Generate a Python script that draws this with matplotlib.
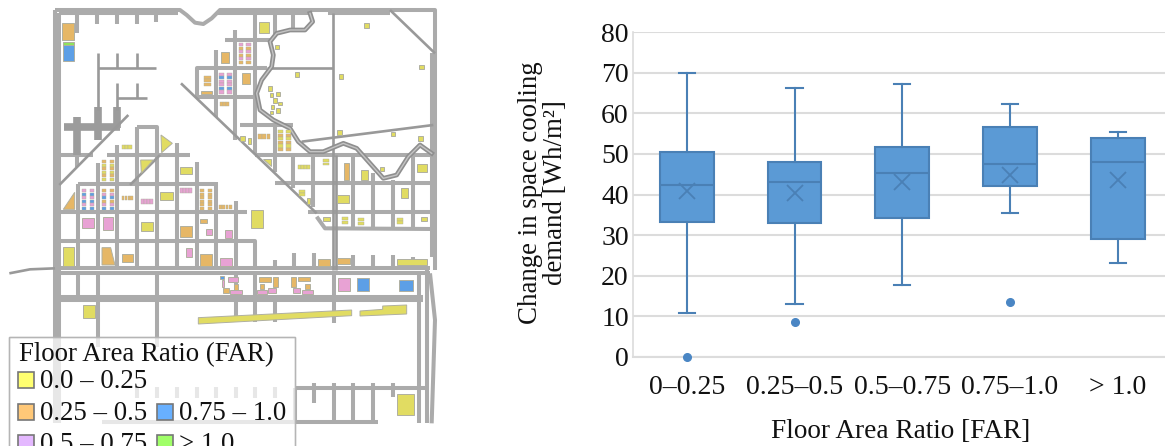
import matplotlib
matplotlib.use('Agg')
import matplotlib.pyplot as plt
from matplotlib.patches import Rectangle, Polygon

plt.rcParams['font.family'] = ['Liberation Serif', 'DejaVu Serif']

# boxplot values
far_labels = ['0\u20130.25', '0.25\u20130.5', '0.5\u20130.75', '0.75\u20131.0', '> 1.0']
whisker_low = [10.8, 13.0, 17.7, 35.5, 23.1]
q1 = [33.3, 33.0, 34.1, 42.2, 29.0]
median = [42.3, 43.2, 45.4, 47.6, 47.9]
q3 = [50.4, 48.1, 51.8, 56.5, 54.0]
whisker_high = [70.0, 66.3, 67.3, 62.2, 55.5]
means = [40.9, 40.3, 43.2, 44.8, 43.6]
outliers = [[0.0], [8.6], [], [13.6], []]

# map geometry, all in 3x image pixels (the map axes is scaled to that)
roads = [
    [(165, 30), (540, 30), (560, 45), (585, 68), (610, 72), (635, 55), (660, 30), (1305, 30), (1305, 810)],
    [(178, 40), (535, 40)], [(655, 40), (925, 40)], [(985, 40), (1170, 40)],
    [(165, 30), (165, 1270)], [(178, 40), (178, 1270)],
    [(232, 40), (232, 100)], [(292, 40), (292, 72)], [(351, 40), (351, 72)], [(410, 40), (410, 72)], [(468, 40), (468, 65)],
    [(178, 465), (280, 465)], [(232, 350), (232, 500)],
    [(320, 465), (570, 465)], [(235, 552), (645, 552)], [(178, 637), (740, 637)], [(178, 723), (765, 723), (765, 805)],
    [(235, 552), (235, 810)], [(293, 490), (293, 810)], [(352, 435), (352, 810)], [(412, 380), (412, 810)],
    [(412, 380), (470, 380), (470, 810)], [(530, 430), (530, 810)], [(590, 485), (590, 810)],
    [(648, 545), (648, 810)], [(707, 603), (707, 810)],
    [(647, 150), (647, 350)], [(705, 90), (705, 420)], [(675, 120), (810, 120)], [(765, 45), (765, 460)], [(825, 45), (825, 110)],
    [(880, 40), (880, 90)], [(590, 290), (590, 205), (800, 205)], [(590, 290), (770, 290)], [(720, 375), (880, 375)],
    [(825, 380), (825, 515)], [(765, 465), (1300, 465)], [(825, 550), (1300, 550)], [(925, 637), (1300, 637)],
    [(950, 650), (975, 685), (1300, 687)], [(880, 465), (880, 565)], [(940, 465), (940, 620)], [(1060, 465), (1060, 687)],
    [(1120, 520), (1120, 687)], [(1180, 540), (1180, 687)], [(1240, 465), (1240, 687)],
    [(1295, 160), (1295, 770)],
    [(165, 805), (1290, 805)], [(165, 818), (1290, 818)], [(165, 890), (1270, 890)], [(165, 900), (1270, 900)],
    [(235, 818), (235, 890)], [(293, 818), (293, 890)], [(470, 818), (470, 890)], [(707, 818), (707, 890)],
    [(765, 818), (765, 890)], [(1002, 818), (1002, 890)], [(1258, 818), (1258, 1270)], [(1280, 800), (1280, 1270)],
    [(1290, 820), (1305, 960), (1295, 1270)],
    [(825, 780), (825, 805)], [(882, 760), (882, 805)], [(942, 760), (942, 805)], [(1060, 765), (1060, 805)],
    [(1120, 765), (1120, 805)], [(1178, 765), (1178, 805)], [(1238, 770), (1238, 805)],
    [(707, 900), (707, 960)], [(765, 900), (765, 965)], [(825, 900), (825, 965)], [(1002, 900), (1002, 970)],
    [(175, 900), (175, 1270)], [(293, 900), (293, 1040)], [(470, 900), (470, 1040)],
    [(885, 1165), (1280, 1165)], [(305, 1265), (1135, 1265)], [(942, 1150), (942, 1210)], [(1002, 1150), (1002, 1265)],
    [(1060, 1150), (1060, 1265)], [(1120, 1150), (1120, 1265)], [(1178, 1150), (1178, 1190)], [(885, 1165), (885, 1265)],
    [(410, 1160), (410, 1195)], [(470, 1160), (470, 1195)], [(530, 1160), (530, 1195)], [(590, 1160), (590, 1195)],
    [(648, 1160), (648, 1195)], [(707, 1160), (707, 1195)], [(765, 1160), (765, 1195)], [(825, 1160), (825, 1195)],
]
heavy_roads = [[(192, 380), (360, 380)], [(232, 350), (232, 465)], [(293, 320), (293, 420)], [(351, 320), (351, 385)]]
thin_roads = [
    [(293, 160), (293, 330)], [(293, 205), (467, 205)], [(351, 160), (351, 205)], [(410, 160), (410, 205)],
    [(351, 250), (351, 330)], [(351, 293), (440, 293)], [(410, 250), (410, 293)],
    [(385, 345), (178, 555)], [(390, 555), (480, 465)], [(543, 250), (950, 640)],
    [(1170, 30), (1305, 160)], [(800, 205), (1000, 205)], [(905, 425), (1300, 375)], [(1000, 40), (1000, 810)],
    [(1008, 465), (1008, 810)],
    [(28, 820), (90, 808), (165, 805)],
]
curve_road = [(930, 40), (938, 65), (915, 90), (870, 90), (830, 100), (810, 125), (820, 165), (815, 200), (785, 240),
              (770, 280), (780, 330), (820, 360), (870, 385), (895, 425), (930, 455), (970, 455), (1030, 430),
              (1070, 445), (1110, 490), (1150, 535), (1190, 525), (1225, 470), (1260, 435), (1295, 460)]

yellow_lots = [(777, 67, 807, 98), (825, 135, 838, 148), (1093, 68, 1107, 83), (1258, 195, 1272, 208), (1016, 223, 1030, 237),
               (884, 217, 898, 231), (803, 259, 816, 272), (827, 276, 839, 288), (810, 278, 819, 290), (818, 295, 830, 308),
               (835, 307, 845, 316), (812, 316, 823, 328), (829, 325, 839, 338), (809, 333, 818, 343), (1012, 391, 1026, 404),
               (1172, 397, 1184, 409), (1255, 408, 1268, 422), (1140, 501, 1152, 514), (1250, 492, 1280, 516), (1082, 510, 1105, 540),
               (1012, 585, 1048, 608), (1203, 563, 1225, 594), (540, 500, 577, 522), (481, 577, 518, 599), (752, 630, 788, 683),
               (424, 665, 458, 693), (190, 740, 222, 797), (1190, 777, 1282, 795), (248, 915, 284, 955), (1192, 1183, 1241, 1245),
               (720, 408, 735, 424), (745, 413, 753, 431), (920, 595, 930, 612), (968, 652, 990, 662), (1262, 652, 1282, 664)]
orange_lots = [(187, 70, 221, 120), (662, 157, 688, 190), (725, 218, 751, 251), (602, 273, 635, 282), (1031, 490, 1046, 541),
               (365, 763, 400, 785), (600, 763, 636, 797), (541, 678, 577, 710), (953, 778, 990, 797), (1012, 775, 1050, 792),
               (600, 657, 620, 668), (668, 865, 688, 880), (703, 853, 713, 870), (778, 830, 812, 845), (780, 853, 793, 868),
               (820, 830, 835, 860), (872, 830, 887, 862), (895, 830, 930, 843), (915, 853, 930, 868)]
pink_lots = [(246, 655, 281, 685), (308, 652, 338, 690), (557, 745, 575, 770), (660, 773, 695, 797), (675, 690, 695, 713),
             (618, 688, 636, 705), (1013, 835, 1050, 873), (683, 831, 715, 845), (665, 840, 673, 862), (690, 870, 725, 882),
             (770, 870, 800, 882), (805, 865, 828, 880), (880, 865, 900, 880), (905, 870, 938, 882)]
blue_lots = [(188, 135, 222, 182), (1072, 835, 1108, 873), (1197, 840, 1240, 873), (660, 827, 673, 838)]
green_lots = [(188, 125, 222, 134)]
yellow_shapes = [[(483, 405), (517, 430), (485, 458)], [(422, 480), (460, 480), (424, 520)], [(790, 478), (813, 478), (813, 497)],
                 [(595, 953), (1055, 930), (1055, 947), (595, 972)],
                 [(1080, 933), (1148, 928), (1148, 918), (1220, 915), (1220, 942), (1080, 948)]]
orange_shapes = [[(190, 628), (224, 577), (224, 628)], [(306, 743), (332, 743), (345, 795), (306, 795)]]

# x0, y0, x1, y1, columns, rows, colours used row by row
clusters = [
    (716, 130, 752, 193, 2, 6, ['pink', 'orange']), (658, 218, 695, 282, 2, 6, ['pink', 'blue', 'pink']),
    (835, 390, 872, 455, 2, 6, ['yellow', 'orange']), (305, 480, 342, 543, 2, 6, ['orange', 'yellow']),
    (246, 567, 283, 630, 2, 6, ['pink', 'blue']), (305, 567, 342, 630, 2, 6, ['orange', 'pink', 'blue']),
    (600, 567, 636, 630, 2, 6, ['orange']),
    (612, 228, 633, 258, 1, 3, ['orange']), (660, 305, 688, 320, 3, 1, ['orange']), (775, 403, 812, 418, 3, 1, ['orange']),
    (893, 495, 930, 510, 4, 1, ['yellow']), (365, 434, 395, 450, 3, 1, ['yellow']), (540, 565, 577, 580, 4, 1, ['pink']),
    (422, 598, 460, 614, 4, 1, ['pink']), (365, 587, 400, 603, 4, 1, ['orange']), (658, 614, 695, 630, 4, 1, ['orange']),
    (898, 570, 917, 590, 1, 2, ['yellow']), (968, 478, 987, 497, 1, 2, ['yellow']), (1027, 652, 1046, 672, 1, 2, ['yellow']),
    (1073, 654, 1092, 675, 1, 2, ['yellow']), (1190, 654, 1210, 673, 1, 2, ['yellow']),
]

map_colors = {'yellow': '#e1dc62', 'orange': '#e6b766', 'pink': '#e8a2d4', 'blue': '#5d9fe6', 'green': '#8fe35c'}
legend_rows = [('0.0 \u2013 0.25', 55, 1141, '#ffff70'), ('0.25 \u2013 0.5', 55, 1237, '#ffc878'), ('0.5 \u2013 0.75', 55, 1329, '#e4b8ff'),
               ('0.75 \u2013 1.0', 470, 1237, '#68b0ff'), ('> 1.0', 470, 1329, '#a0ff68')]

fig = plt.figure(figsize=(11.65, 4.46), dpi=100)

# map drawn first, on an axes the size of the whole figure
mp = fig.add_axes([0, 0, 1, 1])
mp.set_xlim(0, 3495)
mp.set_ylim(1338, 0)
mp.axis('off')

road_grey = '#ababab'
for r in roads:
    mp.plot(*zip(*r), color=road_grey, lw=2.9, solid_capstyle='butt', solid_joinstyle='round')
for r in heavy_roads:
    mp.plot(*zip(*r), color='#9c9c9c', lw=5.5, solid_capstyle='butt')
for r in thin_roads:
    mp.plot(*zip(*r), color='#999999', lw=1.9, solid_capstyle='butt')
# the curved road is a double line
mp.plot(*zip(*curve_road), color='#8f8f8f', lw=3.4, solid_joinstyle='round')
mp.plot(*zip(*curve_road), color='#c4c4c4', lw=1, solid_joinstyle='round')

lot_groups = [(yellow_lots, 'yellow'), (orange_lots, 'orange'), (pink_lots, 'pink'), (blue_lots, 'blue'), (green_lots, 'green')]
for lots, name in lot_groups:
    for x0, y0, x1, y1 in lots:
        mp.add_patch(Rectangle((x0, y0), x1 - x0, y1 - y0, fc=map_colors[name], ec='#b0b0a0', lw=0.7, zorder=3))
for shape in yellow_shapes:
    mp.add_patch(Polygon(shape, fc=map_colors['yellow'], ec='#b0b0a0', lw=0.7, zorder=3))
for shape in orange_shapes:
    mp.add_patch(Polygon(shape, fc=map_colors['orange'], ec='#b0b0a0', lw=0.7, zorder=3))
for x0, y0, x1, y1, ncol, nrow, cols in clusters:
    w = (x1 - x0) / ncol
    h = (y1 - y0) / nrow
    for i in range(nrow):
        for j in range(ncol):
            if ncol == 2:
                # two strips of units with a gap down the middle
                cx = x0 if j == 0 else x1 - w * 0.7
                cw = w * 0.7
            else:
                cx = x0 + j * w
                cw = w * 0.95
            mp.add_patch(Rectangle((cx, y0 + i * h), cw, h * 0.88, fc=map_colors[cols[i % len(cols)]],
                                   ec='#b0b0a0', lw=0.3, zorder=3))

# legend box sits on top of the map and lets the roads show through
mp.add_patch(Rectangle((28, 1010), 858, 340, fc='white', ec='#b5b5b5', lw=1, alpha=0.72, zorder=5))
mp.add_patch(Rectangle((28, 1010), 858, 340, fc='none', ec='#b5b5b5', lw=1, zorder=5))
mp.text(57, 1082, 'Floor Area Ratio (FAR)', fontsize=19.4, va='baseline', ha='left', zorder=6, color='#111111')
for label, x, y, c in legend_rows:
    mp.add_patch(Rectangle((x, y - 24), 48, 48, fc=c, ec='#777777', lw=1.2, zorder=6, clip_on=True))
    mp.text(x + 66, y + 24, label, fontsize=19.4, va='baseline', ha='left', zorder=6, color='#111111')

# boxplot panel
ax = fig.add_axes([633 / 1165, 89 / 446, 532 / 1165, 325 / 446])
ax.patch.set_alpha(0)
stats = []
for i in range(len(far_labels)):
    stats.append({'label': far_labels[i], 'whislo': whisker_low[i], 'q1': q1[i], 'med': median[i], 'q3': q3[i],
                  'whishi': whisker_high[i], 'mean': means[i], 'fliers': outliers[i]})

line_blue = '#4a80b5'
ax.bxp(stats, positions=[1, 2, 3, 4, 5], widths=0.5, patch_artist=True, showmeans=True, meanline=False,
       boxprops=dict(facecolor='#5b9ad5', edgecolor=line_blue, linewidth=1.5),
       medianprops=dict(color=line_blue, linewidth=1.5),
       whiskerprops=dict(color=line_blue, linewidth=1.5),
       capprops=dict(color=line_blue, linewidth=1.5),
       capwidths=0.15,
       meanprops=dict(marker='x', markersize=12, markeredgecolor=line_blue, markeredgewidth=1.3),
       flierprops=dict(marker='o', markersize=5.5, markerfacecolor='#4a86c4', markeredgecolor='#4a86c4'),
       zorder=3)
for art in ax.lines:
    art.set_clip_on(False)

ax.set_xlim(0.5, 0.5 + 532 / 107.7)
ax.set_ylim(0, 80)
ax.set_yticks(range(0, 81, 10))
ax.yaxis.grid(True, color='#dcdcdc', lw=1.5)
ax.set_axisbelow(True)
for s in ['top', 'right']:
    ax.spines[s].set_visible(False)
ax.spines['left'].set_color('#dcdcdc')
ax.spines['bottom'].set_color('#dcdcdc')
ax.spines['left'].set_linewidth(1.2)
ax.spines['bottom'].set_linewidth(1.5)
ax.tick_params(axis='both', length=0, labelsize=20, colors='#111111')
ax.tick_params(axis='x', pad=13)
ax.tick_params(axis='y', pad=3)
ax.set_xlabel('Floor Area Ratio [FAR]', fontsize=19.6, color='#111111')
ax.xaxis.set_label_coords((901 - 633) / 532, -74 / 325)
ax.xaxis.label.set_va('center')
ax.set_ylabel('Change in space cooling\ndemand [Wh/m\u00b2]', fontsize=19.4, color='#111111', linespacing=0.95, va='center')
ax.yaxis.set_label_coords((543 - 633) / 532, (357 - 193) / 325)

fig.savefig('out.png', dpi=100)
